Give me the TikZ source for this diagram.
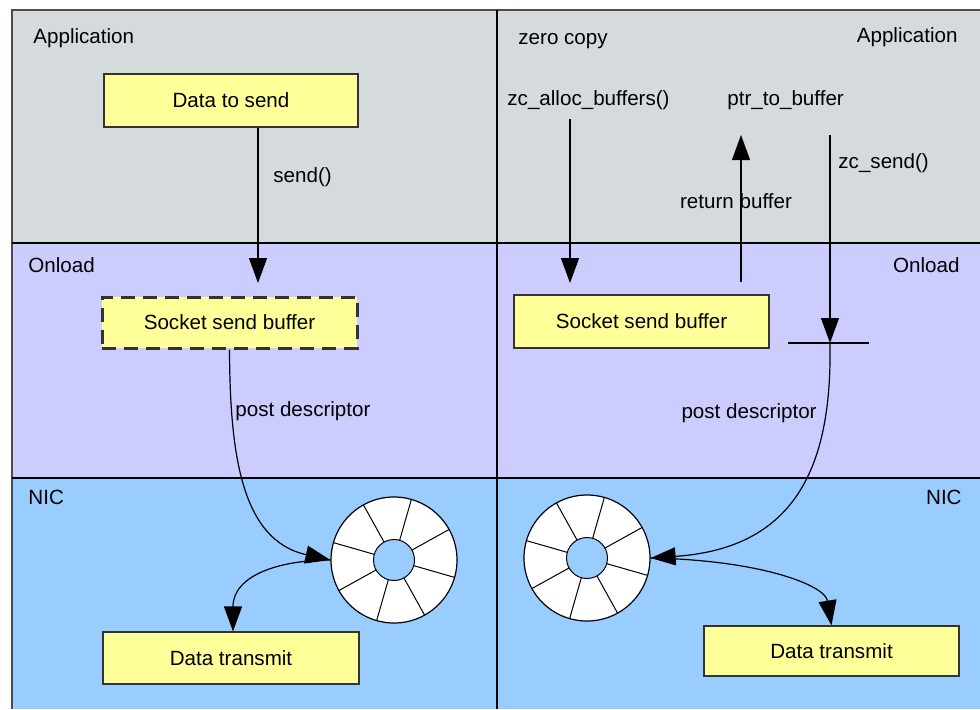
\documentclass[tikz,border=0pt]{standalone}
\usepackage{fontspec}
\setmainfont{Liberation Sans}
\usetikzlibrary{arrows.meta}
\definecolor{appgray}{RGB}{213,219,221}
\definecolor{onlilac}{RGB}{204,204,255}
\definecolor{nicblue}{RGB}{153,204,255}
\definecolor{bufyellow}{RGB}{255,255,153}

\begin{document}
\begin{tikzpicture}
  [x=0.5pt,y=-0.5pt,font=\fontsize{10.3}{12}\selectfont,
   box/.style={draw=black!80,line width=0.6pt,fill=bufyellow,inner sep=0pt},
   lbl/.style={inner sep=0pt,text height=7.4pt,text depth=2.2pt},
   arr/.style={-{Triangle[length=12.5pt,width=9pt]},line width=0.6pt},
   ring/.style={circle,draw,fill=white,minimum size=63pt,inner sep=0pt,line width=0.6pt}]
  \useasboundingbox (0,0) rectangle (980,709);

  % layers
  \fill[appgray] (12,10) rectangle (980,243);
  \fill[onlilac] (12,243) rectangle (980,478);
  \fill[nicblue] (12,478) rectangle (980,709);
  \draw[black!70,line width=1pt] (12,709) -- (12,10) -- (980,10);
  \draw[line width=1.4pt] (12,243) -- (980,243);
  \draw[line width=0.9pt] (12,478) -- (980,478);
  \draw[line width=0.8pt] (497,10) -- (497,709);

  % layer names
  \node[lbl,anchor=west] (appL) at (33,38) {Application};
  \node[lbl,anchor=west] (onloadL) at (28,267) {Onload};
  \node[lbl,anchor=west] (nicL) at (28,499) {NIC};
  \node[lbl,anchor=west] (zcopy) at (518,39) {zero copy};
  \node[lbl,anchor=east] (appR) at (958,37) {Application};
  \node[lbl,anchor=east] (onloadR) at (960,267) {Onload};
  \node[lbl,anchor=east] (nicR) at (962,499) {NIC};

  % left: normal send
  \node[box,minimum width=127pt,minimum height=26.5pt] (data) at (231,100.5) {Data to send};
  \node[box,dash pattern=on 7pt off 4pt,line width=1.5pt,minimum width=127.5pt,minimum height=25.5pt] (sockL) at (229.5,322.5) {Socket send buffer};
  \node[box,minimum width=128pt,minimum height=26pt] (txL) at (231,658) {Data transmit};
  \node[ring] (ringL) at (394,560) {};
  \node[lbl,anchor=west] (lblSend) at (273,177) {send()};
  \node[lbl,anchor=west] (lblPostL) at (235,411) {post descriptor};

  \coordinate (sendTip) at (258,283);
  \draw[arr] (data.south -| sendTip) -- (sendTip);
  \draw[arr] (sockL.south) .. controls (230,450) and (240,540) .. (ringL.west);
  \draw[arr] (ringL.west) .. controls (280,560) and (233,575) .. (txL.north -| 233,0);

  % right: zero copy send
  \node[box,minimum width=127.5pt,minimum height=26.5pt] (sockR) at (641.5,321.5) {Socket send buffer};
  \node[box,minimum width=127.5pt,minimum height=25pt] (txR) at (831.5,651) {Data transmit};
  \node[ring] (ringR) at (587,558) {};
  \node[lbl,anchor=west] (lblAlloc) at (507,100) {zc\_alloc\_buffers()};
  \node[lbl,anchor=west] (lblPtr) at (727,100) {ptr\_to\_buffer};
  \node[lbl] (lblRet) at (736,203) {return buffer};
  \node[lbl,anchor=west] (lblZcs) at (838,163) {zc\_send()};
  \node[lbl,anchor=east] (lblPostR) at (817,413) {post descriptor};

  \coordinate (allocTop) at (570,119);
  \coordinate (allocTip) at (570,283);
  \coordinate (retBot) at (741,282);
  \coordinate (retTip) at (741,135);
  \coordinate (zcsTop) at (830,135);
  \coordinate (gate) at (830,343);
  \coordinate (gateL) at (788,343);
  \coordinate (gateR) at (869,343);
  \draw[arr] (allocTop) -- (allocTip);
  \draw[arr] (retBot) -- (retTip);
  \draw[arr] (zcsTop) -- (gate);
  \draw[line width=0.6pt] (gateL) -- (gateR);
  \draw[arr] (gate) .. controls (832,460) and (800,548) .. (ringR.east);
  \draw[arr] (ringR.east) .. controls (760,560) and (825,585) .. (txR.north);

  % ring slots
  \foreach \r in {ringL,ringR} {
    \fill[nicblue] (\r.center) circle[radius=10.25pt];
    \foreach \a in {16,61,...,331}
      \draw[line width=0.5pt] (\r.center) ++(\a:20.5) -- ++(\a:42.5);
    \draw[line width=0.5pt] (\r.center) circle[radius=10.25pt];
  }
\end{tikzpicture}
\end{document}
